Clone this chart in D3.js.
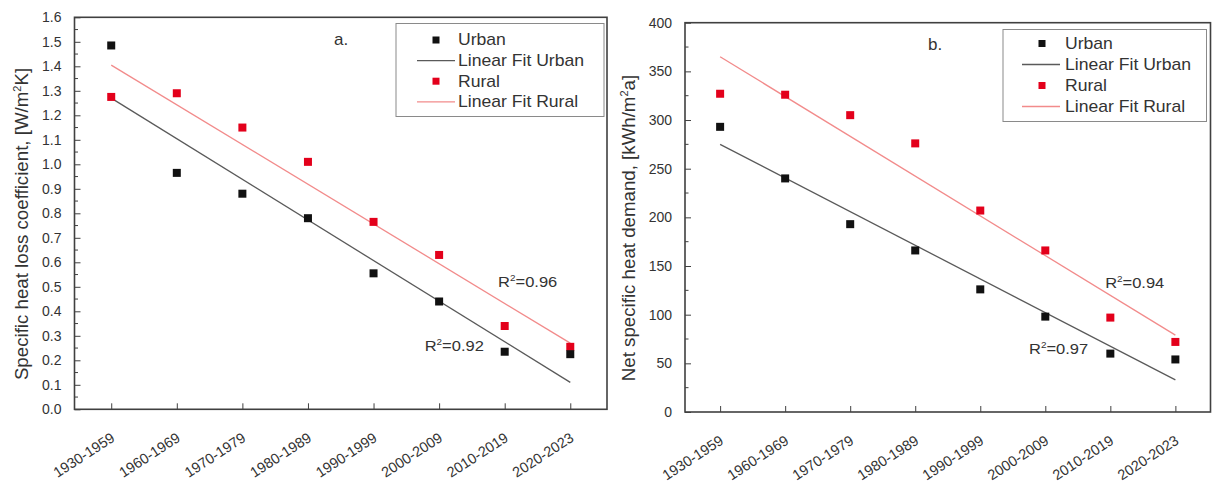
<!DOCTYPE html>
<html><head><meta charset="utf-8">
<script src="https://cdn.jsdelivr.net/npm/d3@7"></script>
<style>
html,body{margin:0;padding:0;background:#fff;}
svg{display:block;font-family:"Liberation Sans",Arial,sans-serif;}
</style></head>
<body>
<svg id="chart" width="1213" height="482"></svg>
<script>
// ---------- data ----------
const categories = ["1930-1959","1960-1969","1970-1979","1980-1989","1990-1999","2000-2009","2010-2019","2020-2023"];
const urbanA = [1.485, 0.965, 0.88, 0.78, 0.555, 0.44, 0.235, 0.225];
const ruralA = [1.275, 1.29, 1.15, 1.01, 0.765, 0.63, 0.34, 0.255];
const fitUrbanA = [1.27, 0.11];   // fit line value at first and last category
const fitRuralA = [1.405, 0.27];
const yTicksA = [0,0.1,0.2,0.3,0.4,0.5,0.6,0.7,0.8,0.9,1.0,1.1,1.2,1.3,1.4,1.5,1.6];
const r2A = [{label:"0.96", cat:5.9, val:0.52}, {label:"0.92", cat:4.78, val:0.26}];

const urbanB = [293, 240, 193, 166, 126, 98, 60, 54];
const ruralB = [327, 326, 305, 276, 207, 166, 97, 72];
const fitUrbanB = [275, 33];
const fitRuralB = [365, 79];
const yTicksB = [0,50,100,150,200,250,300,350,400];
const r2B = [{label:"0.94", cat:5.92, val:133}, {label:"0.97", cat:4.75, val:65}];

const legendLabels = ["Urban","Linear Fit Urban","Rural","Linear Fit Rural"];

// ---------- drawing ----------
const svg = d3.select("#chart");
const C = {urban:"#111", rural:"#e3001b", fitU:"#5a5a5a", fitR:"#f28b8b", axis:"#404040", text:"#333"};
const SX = 1.1; // horizontal stretch of text seen in the reference

function stretch(sel, x){
  sel.attr("transform", `translate(${x},0) scale(${SX},1) translate(${-x},0)`);
}

function panel(o){
  const g = svg.append("g");
  const x = d3.scalePoint().domain(categories).range([o.x0, o.x1]).padding(o.pad);
  const y = d3.scaleLinear().domain(o.domain).range([o.yb, o.yt]);
  const xi = i => x(categories[i]);

  // minor y ticks
  g.append("g").selectAll("line").data(o.minor).join("line")
    .attr("x1", o.x0).attr("x2", o.x0+3.5).attr("y1", d=>y(d)).attr("y2", d=>y(d))
    .attr("stroke", C.axis).attr("stroke-width",1);
  // y axis (ticks inward)
  const ya = g.append("g").attr("transform",`translate(${o.x0},0)`)
    .call(d3.axisLeft(y).tickValues(o.ticks).tickFormat(o.fmt).tickSize(-6).tickPadding(13));
  ya.select(".domain").remove();
  ya.selectAll(".tick line").attr("stroke", C.axis);
  ya.selectAll(".tick text").attr("fill", C.text).style("font-size","14px").style("font-family","Liberation Sans, Arial, sans-serif");

  // x axis
  const xa = g.append("g").attr("transform",`translate(0,${o.yb})`)
    .call(d3.axisBottom(x).tickSize(-6).tickPadding(0));
  xa.select(".domain").remove();
  xa.selectAll(".tick line").attr("stroke", C.axis);
  xa.selectAll(".tick text").attr("fill", C.text).style("font-size","14.5px")
    .style("font-family","Liberation Sans, Arial, sans-serif")
    .attr("text-anchor","end").attr("dy",null).attr("y",null)
    .attr("transform","translate(4,31) rotate(-33)");

  // frame
  g.append("rect").attr("x",o.x0).attr("y",o.yt).attr("width",o.x1-o.x0).attr("height",o.yb-o.yt)
    .attr("fill","none").attr("stroke",C.axis).attr("stroke-width",1.6);

  // fit lines
  g.append("line").attr("x1",xi(0)).attr("x2",xi(7)).attr("y1",y(o.fitU[0])).attr("y2",y(o.fitU[1]))
    .attr("stroke",C.fitU).attr("stroke-width",1.3);
  g.append("line").attr("x1",xi(0)).attr("x2",xi(7)).attr("y1",y(o.fitR[0])).attr("y2",y(o.fitR[1]))
    .attr("stroke",C.fitR).attr("stroke-width",1.3);

  // points
  const s = 8;
  g.append("g").selectAll("rect").data(o.rural).join("rect")
    .attr("x",(d,i)=>xi(i)-s/2).attr("y",d=>y(d)-s/2).attr("width",s).attr("height",s).attr("fill",C.rural);
  g.append("g").selectAll("rect").data(o.urban).join("rect")
    .attr("x",(d,i)=>xi(i)-s/2).attr("y",d=>y(d)-s/2).attr("width",s).attr("height",s).attr("fill",C.urban);

  // R2 labels
  const cx = d3.scaleLinear().domain([0,7]).range([xi(0), xi(7)]);
  o.r2.forEach(r=>{
    const t = g.append("text").attr("x",cx(r.cat)).attr("y",y(r.val)+5).attr("fill",C.text).style("font-size","15px");
    t.append("tspan").text("R");
    t.append("tspan").text("2").attr("dy",-6).style("font-size","9px");
    t.append("tspan").text("=" + r.label).attr("dy",6);
    stretch(t, cx(r.cat));
  });

  // panel letter
  g.append("text").attr("x",o.letterX).attr("y",o.letterY).attr("fill",C.text).style("font-size","17px").text(o.letter);

  // legend
  const L = o.leg;
  g.append("rect").attr("x",L.x).attr("y",L.y).attr("width",L.w).attr("height",L.h)
    .attr("fill","#fff").attr("stroke","#8a8a8a").attr("stroke-width",1);
  legendLabels.forEach((lab,i)=>{
    const yy = L.y + L.r0 + i*L.dy;
    if(i===0 || i===2){
      g.append("rect").attr("x",L.mx-3.5).attr("y",yy-3.5).attr("width",7).attr("height",7)
        .attr("fill", i===0?C.urban:C.rural);
    } else {
      g.append("line").attr("x1",L.lx0).attr("x2",L.lx1).attr("y1",yy).attr("y2",yy)
        .attr("stroke", i===1?C.fitU:C.fitR).attr("stroke-width",1.3);
    }
    const t = g.append("text").attr("x",L.tx).attr("y",yy+5.5).attr("fill",C.text).style("font-size","16px").text(lab);
    stretch(t, L.tx);
  });

  // y title: centred by measuring its length
  const yt = g.append("text").attr("fill",C.text).style("font-size","18.7px");
  yt.append("tspan").text(o.title[0]);
  yt.append("tspan").text("2").attr("dy",-7).style("font-size","11px");
  yt.append("tspan").text(o.title[1]).attr("dy",7);
  const len = yt.node().getComputedTextLength();
  yt.attr("transform",`translate(${o.titleX},${o.titleY + len/2}) rotate(-90)`);
}

panel({
  x0:74.5, x1:607, yt:17.3, yb:409.3, pad:0.56, domain:[0,1.6],
  ticks:yTicksA, minor:yTicksA.slice(0,-1).map(v=>v+0.05), fmt:d3.format(".1f"),
  urban:urbanA, rural:ruralA, fitU:fitUrbanA, fitR:fitRuralA, r2:r2A,
  letter:"a.", letterX:334, letterY:45,
  leg:{x:396, y:23.5, w:208, h:93, r0:16.5, dy:20.6, mx:436, lx0:417, lx1:455, tx:458},
  title:["Specific heat loss coefficient, [W/m","K]"], titleX:28, titleY:224
});
panel({
  x0:685, x1:1210.5, yt:22.7, yb:412, pad:0.54, domain:[0,400],
  ticks:yTicksB, minor:yTicksB.slice(0,-1).map(v=>v+25), fmt:d3.format("d"),
  urban:urbanB, rural:ruralB, fitU:fitUrbanB, fitR:fitRuralB, r2:r2B,
  letter:"b.", letterX:928, letterY:50,
  leg:{x:1003, y:29.5, w:203.5, h:92, r0:14, dy:21, mx:1042, lx0:1022, lx1:1060, tx:1065},
  title:["Net specific heat demand, [kWh/m","a]"], titleX:635, titleY:228
});
</script>
</body></html>
